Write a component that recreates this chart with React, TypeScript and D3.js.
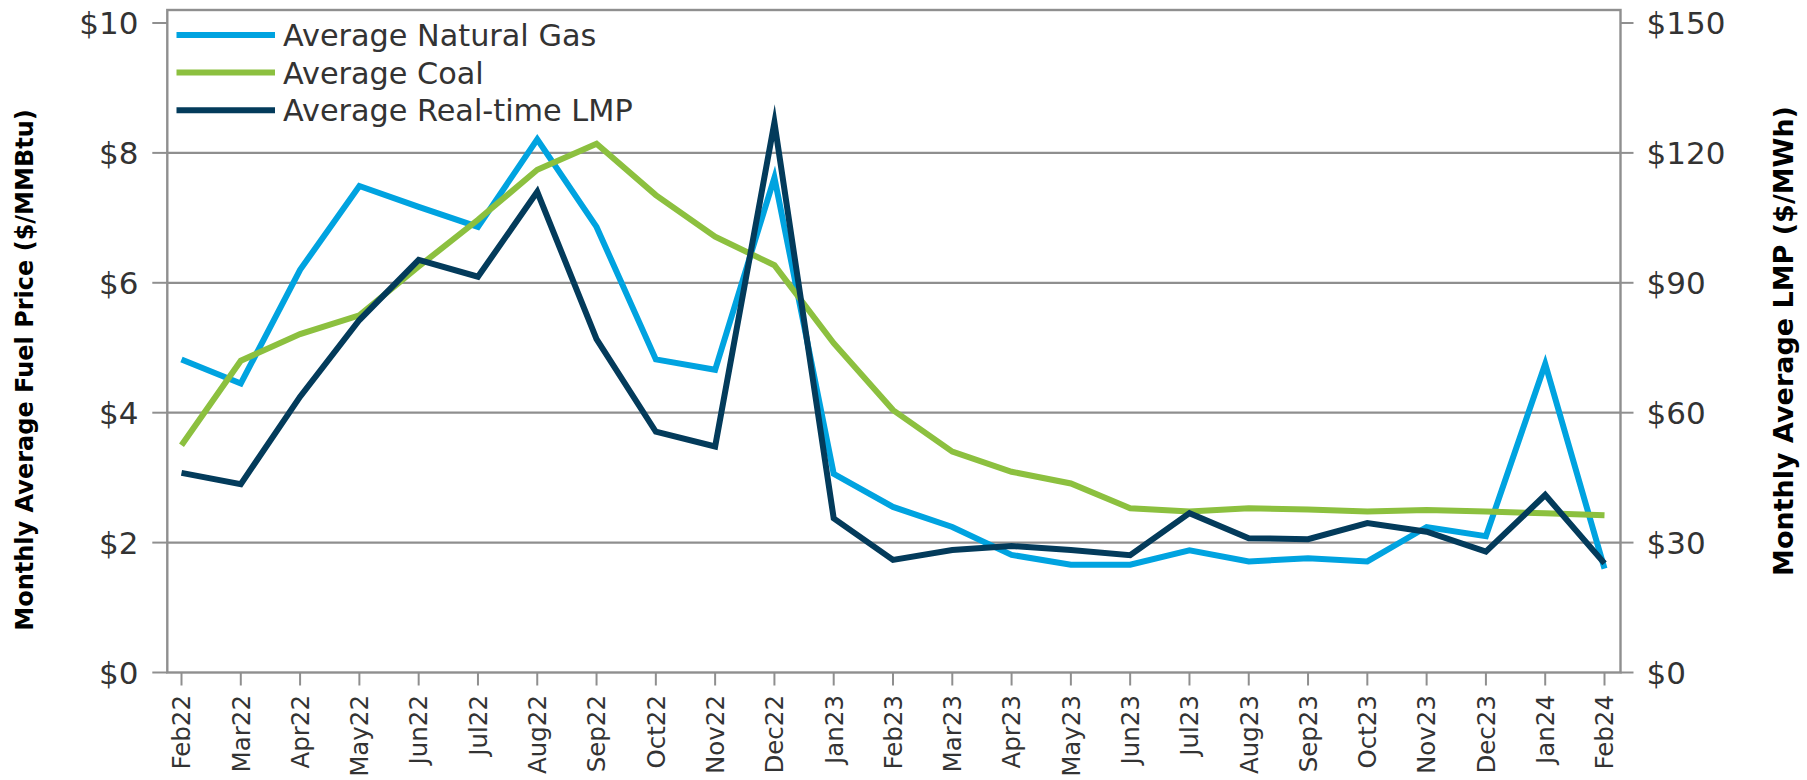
import React from "react";
import * as d3 from "d3";

const months = ["Feb22","Mar22","Apr22","May22","Jun22","Jul22","Aug22","Sep22","Oct22","Nov22","Dec22","Jan23","Feb23","Mar23","Apr23","May23","Jun23","Jul23","Aug23","Sep23","Oct23","Nov23","Dec23","Jan24","Feb24"];
const gasPrice = [4.82,4.45,6.20,7.49,7.17,6.86,8.21,6.86,4.82,4.66,7.62,3.06,2.55,2.24,1.81,1.66,1.66,1.88,1.71,1.76,1.71,2.24,2.10,4.75,1.60];
const coalPrice = [3.50,4.80,5.21,5.50,6.25,6.97,7.74,8.14,7.35,6.71,6.27,5.07,4.04,3.40,3.09,2.91,2.53,2.48,2.53,2.51,2.48,2.50,2.48,2.45,2.42];
const lmpPrice = [46.1,43.5,63.7,81.4,95.3,91.4,111.0,77.0,55.6,52.2,127.0,35.6,26.0,28.3,29.2,28.3,27.1,36.8,31.0,30.8,34.5,32.5,27.9,41.0,25.2];
const leftTicks = [0,2,4,6,8,10];
const rightTicks = [0,30,60,90,120,150];
const legendLabels = ["Average Natural Gas","Average Coal","Average Real-time LMP"];

const W = 1807, H = 780;
const left = 167.3, right = 1620.5, top = 10, bottom = 672.5;
const FONT = "'DejaVu Sans', Verdana, sans-serif";
const COLORS = ["#00a3e0", "#8cc03f", "#033b5b"];
const GRID = "#8f8f8f";
const TEXT = "#333333";

export default function App() {
  const x = d3.scalePoint<string>().domain(months).range([181.5, 1604.5]);
  const yL = d3.scaleLinear().domain([0, 10.2]).range([bottom, top]);
  const yR = d3.scaleLinear().domain([0, 153]).range([bottom, top]);

  const lineL = d3.line<number>().x((_, i) => x(months[i]) as number).y((d) => yL(d));
  const lineR = d3.line<number>().x((_, i) => x(months[i]) as number).y((d) => yR(d));

  const series = [
    { d: lineL(gasPrice), c: COLORS[0] },
    { d: lineL(coalPrice), c: COLORS[1] },
    { d: lineR(lmpPrice), c: COLORS[2] },
  ];

  return (
    <div style={{ position: "absolute", left: 0, top: 0 }}>
      <svg width={W} height={H} style={{ display: "block", background: "#fff" }} fontFamily={FONT}>
        {leftTicks.filter((t) => t > 0 && t < 10).map((t) => (
          <line key={"g" + t} x1={left} x2={right} y1={yL(t)} y2={yL(t)} stroke={GRID} strokeWidth={2.2} />
        ))}
        <rect x={left} y={top} width={right - left} height={bottom - top} fill="none" stroke={GRID} strokeWidth={2.4} />
        {leftTicks.map((t) => (
          <g key={"l" + t}>
            <line x1={left - 15} x2={left} y1={yL(t)} y2={yL(t)} stroke={GRID} strokeWidth={2} />
            <text x={138.5} y={yL(t)} dy="0.36em" textAnchor="end" fontSize={31} fill={TEXT}>
              {"$" + d3.format("d")(t)}
            </text>
          </g>
        ))}
        {rightTicks.map((t) => (
          <g key={"r" + t}>
            <line x1={right} x2={right + 13} y1={yR(t)} y2={yR(t)} stroke={GRID} strokeWidth={2} />
            <text x={1646.5} y={yR(t)} dy="0.36em" textAnchor="start" fontSize={31} fill={TEXT}>
              {"$" + d3.format("d")(t)}
            </text>
          </g>
        ))}
        {months.map((m) => {
          const xx = x(m) as number;
          return (
            <g key={m}>
              <line x1={xx} x2={xx} y1={bottom} y2={bottom + 13} stroke={GRID} strokeWidth={2} />
              <text
                transform={`translate(${xx},${695}) rotate(-90)`}
                textAnchor="end"
                dy="0.36em"
                fontSize={24.5}
                fill={TEXT}
              >
                {m}
              </text>
            </g>
          );
        })}
        {series.map((s, i) => (
          <path key={i} d={s.d || ""} fill="none" stroke={s.c} strokeWidth={6} strokeLinejoin="miter" strokeMiterlimit={12} />
        ))}
        {legendLabels.map((lab, i) => {
          const yy = 35 + i * 37.6;
          return (
            <g key={lab}>
              <line x1={176.5} x2={275} y1={yy} y2={yy} stroke={COLORS[i]} strokeWidth={6} />
              <text x={283} y={yy} dy="0.36em" fontSize={30.3} fill={TEXT}>{lab}</text>
            </g>
          );
        })}
        <text transform={`translate(33,370) rotate(-90)`} textAnchor="middle" fontSize={24} fontWeight="bold" fill="#000">
          Monthly Average Fuel Price ($/MMBtu)
        </text>
        <text transform={`translate(1793,341) rotate(-90)`} textAnchor="middle" fontSize={27} fontWeight="bold" fill="#000">
          Monthly Average LMP ($/MWh)
        </text>
      </svg>
    </div>
  );
}
